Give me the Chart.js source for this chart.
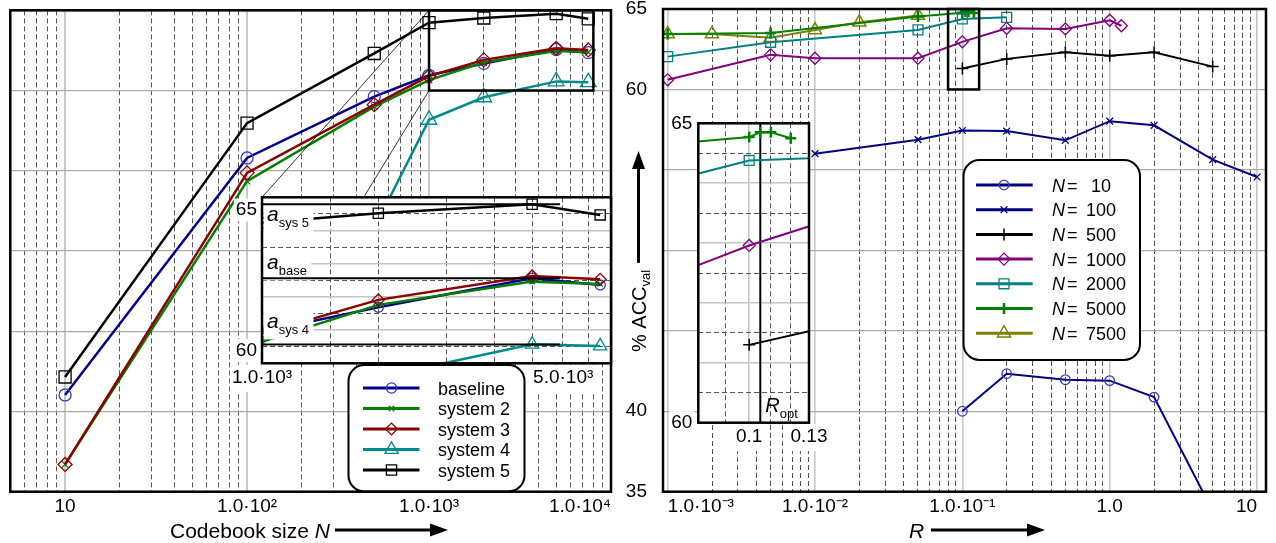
<!DOCTYPE html>
<html><head><meta charset="utf-8">
<script src="https://cdn.jsdelivr.net/npm/chart.js@4/dist/chart.umd.min.js"></script>
<style>
html,body{margin:0;padding:0;background:#fff;}
#wrap{position:relative;width:1276px;height:543px;overflow:hidden;background:#fff;}
#wrap canvas{position:absolute;}
</style></head><body>
<div id="wrap">
 <canvas id="cL" width="640" height="543" style="left:0px;top:0px;z-index:1"></canvas>
 <canvas id="cR" width="676" height="543" style="left:600px;top:0px;z-index:1"></canvas>
 <canvas id="cLI" width="420" height="210" style="left:200px;top:185px;z-index:2"></canvas>
 <canvas id="cRI" width="185" height="345" style="left:655px;top:110px;z-index:2"></canvas>
</div>
<script>
// ================= DATA =================
// Left panel: % ACC_val versus codebook size N
const codebookSizes = [10, 100, 500, 1000, 2000, 5000, 7500];
const accBaseline = [41.03, 55.8, 59.62, 60.95, 61.69, 62.56, 62.36];
const accSystem2  = [36.7, 54.35, 59.0, 60.65, 61.76, 62.46, 62.39];
const accSystem3  = [36.7, 54.87, 59.12, 60.9, 61.91, 62.63, 62.53];
const accSystem4  = [null, null, 51.42, 58.18, 59.58, 60.57, 60.52];
const accSystem5  = [42.15, 57.97, 62.31, 64.23, 64.52, 64.79, 64.47];
const systemNames = ['baseline', 'system 2', 'system 3', 'system 4', 'system 5'];

// reference levels in the left inset
const refNames  = ['sys 5', 'base', 'sys 4'];
const refValues = [64.79, 62.56, 60.57];
const refSpanN  = [1000, 5900];

// Right panel: % ACC_val versus R, one series per codebook size
const seriesN = [10, 100, 500, 1000, 2000, 5000, 7500];
const rN10    = [0.1, 0.2, 0.5, 1, 2, 5];
const accN10  = [40.0, 42.33, 41.96, 41.9, 40.88, 33.8];
const rN100   = [0.01, 0.05, 0.1, 0.2, 0.5, 1, 2, 5, 10];
const accN100 = [56.01, 56.88, 57.45, 57.41, 56.84, 58.03, 57.77, 55.64, 54.56];
const rN500   = [0.1, 0.2, 0.5, 1, 2, 5];
const accN500 = [61.3, 61.9, 62.31, 62.1, 62.31, 61.42];
const rN1000  = [0.001, 0.005, 0.01, 0.05, 0.1, 0.2, 0.5, 1, 1.2];
const accN1000= [60.6, 62.15, 61.94, 61.94, 62.96, 63.8, 63.76, 64.3, 63.96];
const rN2000  = [0.001, 0.005, 0.05, 0.1, 0.2];
const accN2000= [62.04, 62.93, 63.7, 64.38, 64.48];
const rN5000  = [0.001, 0.005, 0.05, 0.1, 0.105, 0.11, 0.12];
const accN5000= [63.45, 63.51, 64.54, 64.77, 64.85, 64.85, 64.75];
const rN7500  = [0.001, 0.002, 0.005, 0.01, 0.02, 0.05];
const accN7500= [63.45, 63.45, 63.22, 63.69, 64.17, 64.6];
const rOpt = 0.105;

// axis ranges and tick labels
const accRange = [35, 65];
const accTickValues = [35, 40, 60, 65];
const accTickLabels = ['35', '40', '60', '65'];
const accGridValues = [35, 40, 45, 50, 55, 60, 65];
const leftRange = [5, 10000];
const leftTickValues = [10, 100, 1000, 10000];
const leftTickLabels = ['10', '1.0·10²', '1.0·10³', '1.0·10⁴'];
const rightRange = [0.00093, 11.5];
const rightTickValues = [0.001, 0.01, 0.1, 1, 10];
const rightTickLabels = ['1.0·10⁻³', '1.0·10⁻²', '1.0·10⁻¹', '1.0', '10'];
const insetAccRange = [60, 65];
const insetAccTickValues = [60, 65];
const insetAccTickLabels = ['60', '65'];
const insetAccGrid = [60, 60.5, 61, 61.5, 62, 62.5, 63, 63.5, 64, 64.5, 65];
const insetAccSolid = [61, 62, 63, 64];
const insetLRange = [1000, 8000];
const insetLGrid = [1000, 1500, 2000, 3000, 4000, 5000, 6000, 7000];
const insetLTickValues = [1000, 5000];
const insetLTickLabels = ['1.0·10³', '5.0·10³'];
const insetRRange = [0.08, 0.13];
const insetRGrid = [0.09, 0.1, 0.11, 0.12, 0.13];
const insetRSolid = [0.1];
const insetRTickValues = [0.1, 0.13];
const insetRTickLabels = ['0.1', '0.13'];

// ================= STYLE / HELPERS =================
const FONT = "'Liberation Sans', Arial, Helvetica, sans-serif";
Chart.defaults.font.family = FONT;
Chart.defaults.color = '#000';

const sameVal = (a, b) => Math.abs(a - b) <= Math.abs(b) * 1e-6 + 1e-12;
const inList = (v, list) => list.some(t => sameVal(v, t));
const labelFor = (v, vals, labs) => { const i = vals.findIndex(t => sameVal(v, t)); return i < 0 ? '' : labs[i]; };
function logGrid(lo, hi) {
  const out = [];
  for (let e = -4; e <= 5; e++) for (let m = 1; m <= 9; m++) {
    const v = Number((m * Math.pow(10, e)).toPrecision(6));
    if (v >= lo && v <= hi) out.push(v);
  }
  return out;
}
function pts(xs, ys) { return xs.map((x, i) => ({x, y: ys[i]})).filter(p => p.y !== null && p.y !== undefined); }

function xLogAxis(o) {
  const solid = c => !!(c.tick && inList(c.tick.value, o.solid));
  return {
    type: 'logarithmic', position: 'bottom', min: o.min, max: o.max,
    afterBuildTicks: ax => { ax.ticks = o.grid.map(v => ({value: v})); },
    afterFit: ax => { ax.height = o.height; ax.paddingLeft = 0; ax.paddingRight = 0; },
    ticks: {display: o.show !== false, autoSkip: false, maxRotation: 0, minRotation: 0, align: o.align, padding: o.pad,
      font: {size: o.size}, color: '#000', callback: v => labelFor(v, o.labVals, o.labs)},
    grid: {drawTicks: false, color: c => solid(c) ? o.solidColor : '#555',
      lineWidth: c => solid(c) ? o.solidWidth : 1},
    border: {display: false, dash: c => solid(c) ? [] : [5, 3]}
  };
}
function yLinAxis(o) {
  const solid = c => !!(c.tick && inList(c.tick.value, o.solid));
  return {
    type: 'linear', position: 'left', min: o.min, max: o.max,
    afterBuildTicks: ax => { ax.ticks = o.grid.map(v => ({value: v})); },
    afterFit: ax => { ax.width = o.width; ax.paddingTop = 0; ax.paddingBottom = 0; },
    ticks: {display: o.show, autoSkip: false, padding: o.pad,
      font: {size: o.size, lineHeight: o.lineHeight || 1.2}, color: '#000',
      callback: v => o.labelFn ? o.labelFn(v) : labelFor(v, o.labVals, o.labs)},
    grid: {drawTicks: false, color: c => solid(c) ? o.solidColor : '#555',
      lineWidth: c => solid(c) ? o.solidWidth : 1},
    border: {display: false, dash: c => solid(c) ? [] : [5, 3]}
  };
}
function baseOpts(padding, x, y) {
  return {responsive: false, animation: false, devicePixelRatio: 1, events: [],
    layout: {padding}, plugins: {legend: {display: false}, tooltip: {enabled: false}},
    scales: {x, y}};
}
function richText(ctx, x, y, parts) {
  let cx = x;
  ctx.textAlign = 'left'; ctx.textBaseline = 'alphabetic'; ctx.fillStyle = '#000';
  for (const p of parts) { ctx.font = p[1]; ctx.fillText(p[0], cx, y + (p[2] || 0)); cx += ctx.measureText(p[0]).width; }
  return cx;
}
function arrowH(ctx, x0, x1, y) {
  ctx.save(); ctx.strokeStyle = '#000'; ctx.fillStyle = '#000'; ctx.lineWidth = 3;
  ctx.beginPath(); ctx.moveTo(x0, y); ctx.lineTo(x1 - 12, y); ctx.stroke();
  ctx.beginPath(); ctx.moveTo(x1, y); ctx.lineTo(x1 - 18, y - 6.5); ctx.lineTo(x1 - 18, y + 6.5); ctx.closePath(); ctx.fill();
  ctx.restore();
}
function marker(ctx, style, r, x, y, color, bw) {
  ctx.save(); ctx.strokeStyle = color; ctx.fillStyle = 'rgba(0,0,0,0)'; ctx.lineWidth = bw;
  if (Chart.helpers && Chart.helpers.drawPoint) {
    Chart.helpers.drawPoint(ctx, {pointStyle: style, rotation: 0, radius: r, borderWidth: bw}, x, y);
  } else { ctx.beginPath(); ctx.arc(x, y, r, 0, Math.PI * 2); ctx.stroke(); }
  ctx.restore();
}
function roundBox(ctx, x, y, w, h, r) {
  ctx.save(); ctx.beginPath();
  ctx.moveTo(x + r, y); ctx.arcTo(x + w, y, x + w, y + h, r); ctx.arcTo(x + w, y + h, x, y + h, r);
  ctx.arcTo(x, y + h, x, y, r); ctx.arcTo(x, y, x + w, y, r); ctx.closePath();
  ctx.fillStyle = '#fff'; ctx.fill(); ctx.strokeStyle = '#000'; ctx.lineWidth = 2; ctx.stroke(); ctx.restore();
}
const framePlugin = {id: 'frame', afterDraw(chart) {
  const {ctx, chartArea: a} = chart;
  ctx.save(); ctx.strokeStyle = '#000'; ctx.lineWidth = 2.5;
  ctx.strokeRect(a.left, a.top, a.right - a.left, a.bottom - a.top); ctx.restore();
}};
// inset: white plot background, white boxes behind tick labels, x tick labels placed along the library's x scale
function insetDecor(o) {
  const xLabelPos = (ctx, x, i, w) => {
    const px = x.getPixelForValue(o.xVals[i]);
    return o.xAlign[i] === 'left' ? px + 1 : px - w / 2;
  };
  return {id: 'insetDecor',
    beforeDraw(chart) {
      const {ctx, chartArea: a, scales: {x, y}} = chart;
      ctx.save(); ctx.fillStyle = '#fff';
      ctx.fillRect(a.left, a.top, a.right - a.left, a.bottom - a.top);
      ctx.font = o.size + 'px ' + FONT;
      o.xVals.forEach((v, i) => { const w = ctx.measureText(o.xLabs[i]).width;
        ctx.fillRect(xLabelPos(ctx, x, i, w) - 2, a.bottom + 1.5, w + 4, o.size + 8); });
      o.yVals.forEach((v, i) => { const w = ctx.measureText(o.yLabs[i]).width + 4; const py = y.getPixelForValue(v) + o.yShift[i];
        ctx.fillRect(a.left - o.yPad - w + 2, py - o.size / 2 - 2, w, o.size + 4); });
      ctx.restore();
    },
    afterDraw(chart) {
      const {ctx, chartArea: a, scales: {x}} = chart;
      ctx.save(); ctx.font = o.size + 'px ' + FONT; ctx.fillStyle = '#000';
      ctx.textAlign = 'left'; ctx.textBaseline = 'middle';
      o.xVals.forEach((v, i) => { const w = ctx.measureText(o.xLabs[i]).width;
        ctx.fillText(o.xLabs[i], xLabelPos(ctx, x, i, w), a.bottom + 14.5); });
      ctx.restore();
    }
  };
}

// series looks (not data)
const leftLook = [
  {color: '#00008b', mark: '#3a3ab8', style: 'circle',   r: 6,   order: 3},
  {color: '#008000', mark: '#008000', style: 'crossRot', r: 4.5, order: 2},
  {color: '#8b0000', mark: '#8b0000', style: 'rectRot',  r: 7,   order: 1},
  {color: '#008b8b', mark: '#008b8b', style: 'triangle', r: 9,   order: 4},
  {color: '#000000', mark: '#000000', style: 'rect',     r: 8.5, order: 0}
];
const leftSeries = [accBaseline, accSystem2, accSystem3, accSystem4, accSystem5];
function leftDatasets(scale, clip) {
  return leftSeries.map((ys, k) => Object.assign({
    label: systemNames[k], data: pts(codebookSizes, ys),
    borderColor: leftLook[k].color, borderWidth: 2.5, tension: 0, fill: false,
    pointStyle: leftLook[k].style, pointRadius: leftLook[k].r * scale, pointBorderWidth: 1.3,
    pointBorderColor: leftLook[k].mark, pointBackgroundColor: 'rgba(0,0,0,0)', order: leftLook[k].order
  }, clip === undefined ? {} : {clip}));
}
const rightLook = [
  {color: '#000080', mark: '#3a3ab8', style: 'circle',   r: 4.8, bw: 1.3},
  {color: '#000080', mark: '#000080', style: 'crossRot', r: 4.8, bw: 1.3},
  {color: '#000000', mark: '#000000', style: 'cross',    r: 6,   bw: 1.5},
  {color: '#800080', mark: '#800080', style: 'rectRot',  r: 6,   bw: 1.3},
  {color: '#008080', mark: '#008080', style: 'rect',     r: 7,   bw: 1.3},
  {color: '#008000', mark: '#008000', style: 'cross',    r: 5.5, bw: 2.5},
  {color: '#808000', mark: '#808000', style: 'triangle', r: 7.5, bw: 1.5}
];
const rightR = [rN10, rN100, rN500, rN1000, rN2000, rN5000, rN7500];
const rightAcc = [accN10, accN100, accN500, accN1000, accN2000, accN5000, accN7500];
function rightDatasets(scale, inset) {
  return rightR.map((xs, k) => Object.assign({
    label: 'N = ' + seriesN[k], data: pts(xs, rightAcc[k]),
    borderColor: rightLook[k].color, borderWidth: 2, tension: 0, fill: false,
    pointStyle: rightLook[k].style, pointRadius: rightLook[k].r * scale, pointBorderWidth: rightLook[k].bw,
    pointBorderColor: rightLook[k].mark, pointBackgroundColor: 'rgba(0,0,0,0)'
  }, inset ? {clip: 0} : (k === 0 ? {clip: {left: 8, top: 8, right: 8, bottom: 0}} : {})));
}

// ================= LEFT INSET =================
const insetLPos = {x: 200, y: 185};
const refOffsets = [17, -9, -16];
const refLabelPlugin = {id: 'refLabels',
  beforeDatasetsDraw() { this._done = false; },
  beforeDatasetDraw(chart, args) {
    const ds = chart.data.datasets[args.index];
    if (!ds.isRef || this._done) return;
    this._done = true;
    const {ctx, chartArea: a, scales: {y}} = chart;
    ctx.save();
    refValues.forEach((v, i) => {
      const py = y.getPixelForValue(v) + refOffsets[i];
      ctx.font = 'italic 21px ' + FONT; const wa = ctx.measureText('a').width;
      ctx.font = '13px ' + FONT; const ws = ctx.measureText(refNames[i]).width;
      ctx.fillStyle = '#fff'; ctx.fillRect(a.left + 1.5, py - 16, wa + ws + 8, 27);
    });
    ctx.restore();
  },
  afterDatasetsDraw(chart) {
    const {ctx, chartArea: a, scales: {y}} = chart;
    ctx.save();
    refValues.forEach((v, i) => {
      const py = y.getPixelForValue(v) + refOffsets[i];
      richText(ctx, a.left + 5, py, [['a', 'italic 21px ' + FONT], [refNames[i], '13px ' + FONT, 6]]);
    });
    ctx.restore();
  }
};
const refDatasets = refValues.map((v, i) => ({
  label: 'a ' + refNames[i], isRef: true, data: [{x: refSpanN[0], y: v}, {x: refSpanN[1], y: v}],
  borderColor: '#000', borderWidth: 2, pointRadius: 0, fill: false, order: -1, clip: 0
}));
const insetL = new Chart(document.getElementById('cLI'), {
  type: 'line',
  data: {datasets: [...refDatasets, ...leftDatasets(0.85, 0)]},
  options: baseOpts({left: 0, right: 9, top: 12.3, bottom: 0},
    xLogAxis({min: insetLRange[0], max: insetLRange[1], grid: insetLGrid, solid: [], solidColor: '#c4c4c4', solidWidth: 1.5,
      labVals: insetLTickValues, labs: insetLTickLabels, height: 31.7, pad: 3, size: 19, align: 'center', show: false}),
    yLinAxis({min: insetAccRange[0], max: insetAccRange[1], grid: insetAccGrid, solid: insetAccSolid, solidColor: '#c4c4c4', solidWidth: 1.5,
      width: 62, pad: 5, size: 19, lineHeight: 1.35, show: true,
      labelFn: v => sameVal(v, insetAccTickValues[1]) ? ['', insetAccTickLabels[1]] : (sameVal(v, insetAccTickValues[0]) ? [insetAccTickLabels[0], ''] : '')})),
  plugins: [insetDecor({size: 19, xVals: insetLTickValues, xLabs: insetLTickLabels, xAlign: ['center', 'left'],
            yVals: insetAccTickValues, yLabs: insetAccTickLabels, yShift: [-12.8, 12.8], yPad: 5}),
            refLabelPlugin, framePlugin]
});

// ================= RIGHT INSET =================
const insetRPos = {x: 655, y: 110};
const roptPlugin = {id: 'ropt', afterDatasetsDraw(chart) {
  const {ctx, scales: {x, y}} = chart;
  ctx.save();
  richText(ctx, x.getPixelForValue(rOpt) + 5, y.getPixelForValue(insetAccRange[0]) - 11, [['R', 'italic 20px ' + FONT], ['opt', '13px ' + FONT, 6]]);
  ctx.restore();
}};
const insetR = new Chart(document.getElementById('cRI'), {
  type: 'line',
  data: {datasets: [
    {label: 'R_opt', data: [{x: rOpt, y: insetAccRange[0]}, {x: rOpt, y: insetAccRange[1]}], borderColor: '#000', borderWidth: 2, pointRadius: 0, clip: 0, order: 5},
    ...rightDatasets(1.0, true)]},
  options: baseOpts({left: 0, right: 31, top: 13.3, bottom: 0},
    xLogAxis({min: insetRRange[0], max: insetRRange[1], grid: insetRGrid, solid: insetRSolid, solidColor: '#c4c4c4', solidWidth: 1.5,
      labVals: insetRTickValues, labs: insetRTickLabels, height: 32.3, pad: 3, size: 19, align: 'center', show: false}),
    yLinAxis({min: insetAccRange[0], max: insetAccRange[1], grid: insetAccGrid, solid: insetAccSolid, solidColor: '#c4c4c4', solidWidth: 1.5,
      width: 43.3, pad: 6, size: 19, show: true, labVals: insetAccTickValues, labs: insetAccTickLabels})),
  plugins: [insetDecor({size: 19, xVals: insetRTickValues, xLabs: insetRTickLabels, xAlign: ['center', 'center'],
            yVals: insetAccTickValues, yLabs: insetAccTickLabels, yShift: [0, 0], yPad: 6}),
            roptPlugin, framePlugin]
});

// ================= LEFT MAIN =================
const leftDecor = {id: 'leftDecor',
  afterDatasetsDraw(chart) {
    const {ctx, scales: {x, y}} = chart;
    const x1 = x.getPixelForValue(insetLRange[0]), x2 = x.getPixelForValue(insetLRange[1]);
    const yT = y.getPixelForValue(insetAccRange[1]), yB = y.getPixelForValue(insetAccRange[0]);
    const ia = insetL.chartArea;
    ctx.save(); ctx.strokeStyle = '#000'; ctx.lineWidth = 0.8;
    ctx.beginPath(); ctx.moveTo(x1, yT); ctx.lineTo(ia.left + insetLPos.x, ia.top + insetLPos.y);
    ctx.moveTo(x1, yB); ctx.lineTo(ia.left + insetLPos.x, ia.bottom + insetLPos.y); ctx.stroke();
    ctx.lineWidth = 2.5; ctx.strokeRect(x1, yT, x2 - x1, yB - yT);
    ctx.restore();
  },
  afterDraw(chart) {
    const ctx = chart.ctx;
    roundBox(ctx, 348.5, 365, 176, 126.5, 16);
    systemNames.forEach((name, k) => {
      const yy = 388 + k * 20.5;
      ctx.save(); ctx.strokeStyle = leftLook[k].color; ctx.lineWidth = 3;
      ctx.beginPath(); ctx.moveTo(363, yy); ctx.lineTo(419.5, yy); ctx.stroke(); ctx.restore();
      marker(ctx, leftLook[k].style, leftLook[k].r * 0.85, 391.5, yy, leftLook[k].mark, 1.3);
      richText(ctx, 438, yy + 6.5, [[name, '18px ' + FONT]]);
    });
    const end = richText(ctx, 170, 538, [['Codebook size ', '21px ' + FONT], ['N', 'italic 21px ' + FONT]]);
    arrowH(ctx, end + 5, 448, 530);
  }
};
const leftMain = new Chart(document.getElementById('cL'), {
  type: 'line',
  data: {datasets: leftDatasets(1.0)},
  options: baseOpts({left: 7.5, right: 29, top: 8.3, bottom: 0},
    xLogAxis({min: leftRange[0], max: leftRange[1], grid: logGrid(5.5, 10000), solid: leftTickValues, solidColor: '#c8c8c8', solidWidth: 2,
      labVals: leftTickValues, labs: leftTickLabels, height: 51.3, pad: 4, size: 19, align: 'inner'}),
    yLinAxis({min: accRange[0], max: accRange[1], grid: accGridValues, solid: accGridValues, solidColor: '#aaaaaa', solidWidth: 1.3,
      width: 0, pad: 0, size: 19, show: false, labVals: accTickValues, labs: accTickLabels})),
  plugins: [leftDecor, framePlugin]
});

// ================= RIGHT MAIN =================
const rightOx = 600;
const rightDecor = {id: 'rightDecor',
  afterDatasetsDraw(chart) {
    const {ctx, scales: {x, y}} = chart;
    const x1 = x.getPixelForValue(insetRRange[0]), x2 = x.getPixelForValue(insetRRange[1]);
    const yT = y.getPixelForValue(insetAccRange[1]), yB = y.getPixelForValue(insetAccRange[0]);
    ctx.save(); ctx.strokeStyle = '#000'; ctx.lineWidth = 2.5;
    ctx.strokeRect(x1, yT, x2 - x1, yB - yT); ctx.restore();
  },
  afterDraw(chart) {
    const ctx = chart.ctx, ox = rightOx;
    roundBox(ctx, 963.5 - ox, 160, 176.5, 200, 16);
    seriesN.forEach((n, k) => {
      const yy = 185 + k * 24.7;
      ctx.save(); ctx.strokeStyle = rightLook[k].color; ctx.lineWidth = 3;
      ctx.beginPath(); ctx.moveTo(976 - ox, yy); ctx.lineTo(1032.7 - ox, yy); ctx.stroke(); ctx.restore();
      marker(ctx, rightLook[k].style, rightLook[k].r, 1004 - ox, yy, rightLook[k].mark, rightLook[k].bw);
      richText(ctx, 1052 - ox, yy + 6.5, [['N', 'italic 18px ' + FONT]]);
      richText(ctx, 1067 - ox, yy + 6.5, [['=', '18px ' + FONT]]);
      richText(ctx, 1086 - ox, yy + 6.5, [[(n < 100 ? ' ' : '') + n, '18px ' + FONT]]);
    });
    richText(ctx, 909 - ox, 538, [['R', 'italic 21px ' + FONT]]);
    arrowH(ctx, 931 - ox, 1045 - ox, 530);
    ctx.save(); ctx.translate(645.5 - ox, 352); ctx.rotate(-Math.PI / 2);
    const e2 = richText(ctx, 0, 0, [['% ACC', '20px ' + FONT], ['val', '13px ' + FONT, 4]]);
    arrowH(ctx, e2 + 7, 352 - 151, -7);
    ctx.restore();
  }
};
const rightMain = new Chart(document.getElementById('cR'), {
  type: 'line',
  data: {datasets: rightDatasets(1.0, false)},
  options: baseOpts({left: 0, right: 10, top: 8.3, bottom: 0},
    xLogAxis({min: rightRange[0], max: rightRange[1], grid: logGrid(0.00095, 11), solid: rightTickValues, solidColor: '#c8c8c8', solidWidth: 1.6,
      labVals: rightTickValues, labs: rightTickLabels, height: 51.3, pad: 4, size: 19, align: 'inner'}),
    yLinAxis({min: accRange[0], max: accRange[1], grid: accGridValues, solid: accGridValues, solidColor: '#aaaaaa', solidWidth: 1.3,
      width: 63, pad: 16, size: 19, show: true, labVals: accTickValues, labs: accTickLabels})),
  plugins: [rightDecor, framePlugin]
});
</script>
</body></html>
